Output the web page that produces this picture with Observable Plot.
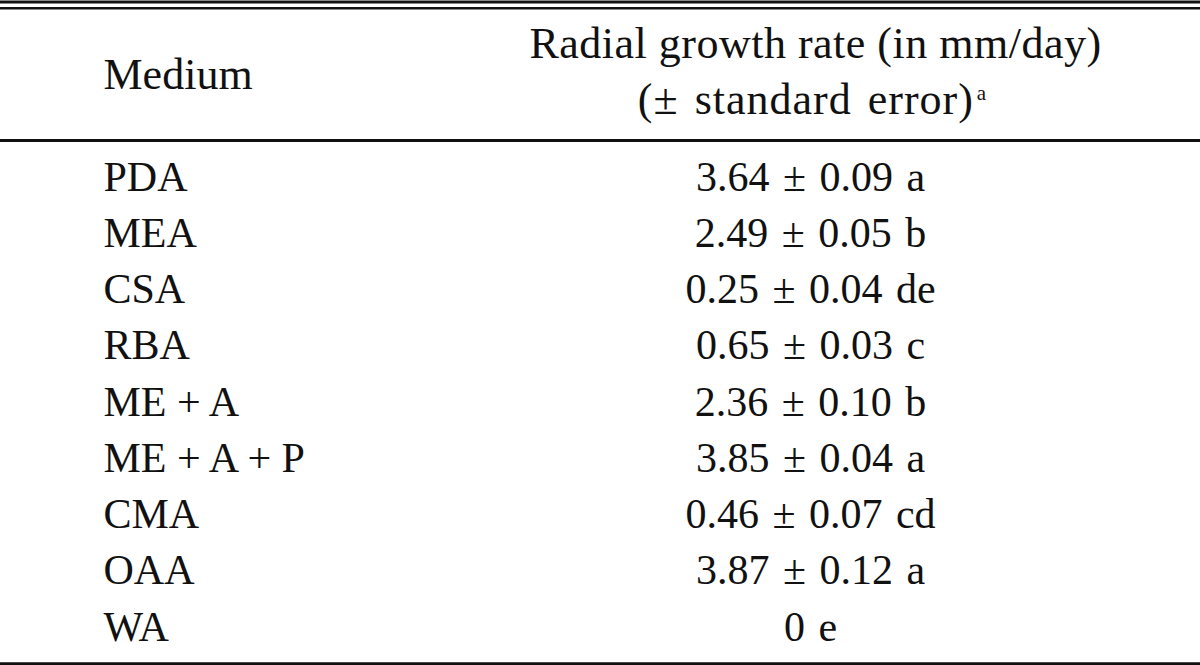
<!DOCTYPE html>
<html>
<head>
<meta charset="utf-8">
<script src="https://cdn.jsdelivr.net/npm/d3@7"></script>
<script src="https://cdn.jsdelivr.net/npm/@observablehq/plot@0.6"></script>
<style>
  html, body { margin: 0; padding: 0; background: #fff; }
  #chart svg { display: block; }
</style>
</head>
<body>
<div id="chart"></div>
<script>
// ---- data ----
const media = ["PDA", "MEA", "CSA", "RBA", "ME + A", "ME + A + P", "CMA", "OAA", "WA"];
const rates = ["3.64", "2.49", "0.25", "0.65", "2.36", "3.85", "0.46", "3.87", "0"];
const errors = ["0.09", "0.05", "0.04", "0.03", "0.10", "0.04", "0.07", "0.12", null];
const groups = ["a", "b", "de", "c", "b", "a", "cd", "a", "e"];
const headerCol1 = "Medium";
const headerCol2 = ["Radial growth rate (in mm/day)", "(± standard error)"];
const headerNote = "a";

// ---- layout ----
const W = 1200, H = 665;
const col1X = 103, col2X = 810;
const rowBase0 = 190, rowStep = 56.25;
const font = "Liberation Serif";
const fs = 42, hfs = 44;

const rows = media.map((m, i) => ({
  medium: m,
  value: rates[i] + (errors[i] ? " ± " + errors[i] : "") + " " + groups[i],
  y: rowBase0 + i * rowStep
}));
const header1 = [{text: headerCol1, y: 88}];
const header2 = [
  {text: headerCol2[0], y: 57},
  {text: headerCol2[1], y: 113}
];
const lines = [
  {y: 1.5, w: 3},
  {y: 7.8, w: 2.5},
  {y: 140, w: 3},
  {y: 663.3, w: 3}
];

const plot = Plot.plot({
  width: W,
  height: H,
  margin: 0,
  x: {domain: [0, W], range: [0, W], axis: null},
  y: {domain: [0, H], range: [0, H], axis: null},
  style: {fontFamily: font, background: "#fff"},
  marks: [
    Plot.ruleY(lines, {y: "y", x1: 0, x2: W, stroke: "#111", strokeWidth: d => d.w}),
    Plot.text(header1, {
      x: col1X, y: "y", text: "text", textAnchor: "start",
      lineAnchor: "bottom", fontSize: hfs, fill: "#111"
    }),
    Plot.text(header2.slice(0, 1), {
      x: col2X + 5, y: "y", text: "text", textAnchor: "middle",
      lineAnchor: "bottom", fontSize: hfs, fill: "#111", className: "hdr-a"
    }),
    Plot.text(header2.slice(1), {
      x: col2X + 2, y: "y", text: "text", textAnchor: "middle",
      lineAnchor: "bottom", fontSize: hfs, fill: "#111", className: "hdr-b"
    }),
    Plot.text(rows, {
      x: col1X, y: "y", text: "medium", textAnchor: "start",
      lineAnchor: "bottom", fontSize: fs, fill: "#111"
    }),
    Plot.text(rows, {
      x: col2X, y: "y", text: "value", textAnchor: "middle",
      lineAnchor: "bottom", fontSize: fs, fill: "#111", className: "vals"
    })
  ]
});

plot.querySelectorAll("g.hdr-a text").forEach(t => {
  t.setAttribute("letter-spacing", "0.5");
});
plot.querySelectorAll("g.vals text").forEach(t => {
  t.setAttribute("word-spacing", "3");
});
// superscript note marker on the second header line
plot.querySelectorAll("g.hdr-b text").forEach(t => {
  t.setAttribute("letter-spacing", "1");
  t.setAttribute("word-spacing", "4");
  const sup = document.createElementNS("http://www.w3.org/2000/svg", "tspan");
  sup.setAttribute("font-size", "21");
  sup.setAttribute("dy", "-14");
  sup.setAttribute("dx", "3");
  sup.textContent = headerNote;
  t.appendChild(sup);
});

document.getElementById("chart").appendChild(plot);
</script>
</body>
</html>
